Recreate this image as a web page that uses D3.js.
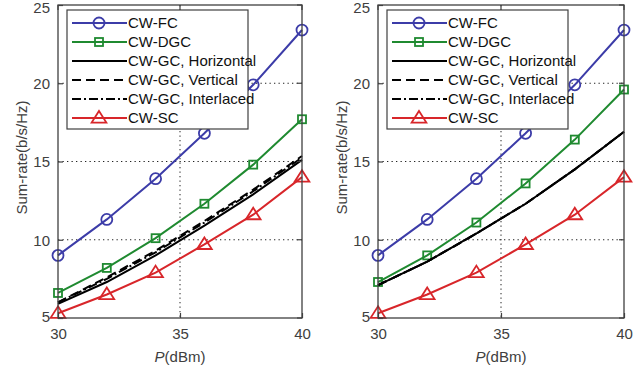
<!DOCTYPE html>
<html>
<head>
<meta charset="utf-8">
<script src="https://cdn.jsdelivr.net/npm/d3@7"></script>
<style>
  body { margin: 0; background: #fff; }
  svg { display: block; font-family: "Liberation Sans", Arial, sans-serif; }
</style>
</head>
<body>
<div id="chart"></div>
<script>
// power levels (dBm)
const powers = [30, 32, 34, 36, 38, 40];

// left panel
const leftFC = [9.0, 11.3, 13.9, 16.8, 19.9, 23.4];
const leftDGC = [6.6, 8.2, 10.1, 12.3, 14.8, 17.7];
const leftGCHoriz = [5.9, 7.3, 9.0, 10.9, 12.9, 15.1];
const leftGCVert = [6.0, 7.6, 9.3, 11.2, 13.2, 15.35];
const leftGCInter = [6.0, 7.5, 9.2, 11.1, 13.1, 15.25];
const leftSC = [5.3, 6.5, 7.9, 9.7, 11.6, 14.0];

// right panel
const rightFC = [9.0, 11.3, 13.9, 16.8, 19.9, 23.4];
const rightDGC = [7.3, 9.0, 11.1, 13.6, 16.4, 19.6];
const rightGCHoriz = [7.1, 8.6, 10.4, 12.3, 14.5, 16.9];
const rightGCVert = [7.1, 8.6, 10.4, 12.3, 14.5, 16.9];
const rightGCInter = [7.1, 8.6, 10.4, 12.3, 14.5, 16.9];
const rightSC = [5.3, 6.5, 7.9, 9.7, 11.6, 14.0];

const seriesNames = ["CW-FC", "CW-DGC", "CW-GC, Horizontal", "CW-GC, Vertical", "CW-GC, Interlaced", "CW-SC"];
const xTicks = [30, 35, 40];
const yTicks = [5, 10, 15, 20, 25];

const blue = "#3c3ca8", green = "#1f8a30", red = "#d8262a", black = "#000";
const styles = [
  { color: blue, marker: "circle", dash: null },
  { color: green, marker: "square", dash: null },
  { color: black, marker: null, dash: null },
  { color: black, marker: null, dash: "9,5" },
  { color: black, marker: null, dash: "9,3,2,3" },
  { color: red, marker: "triangle", dash: null }
];

const width = 644, height = 373;
const svg = d3.select("#chart").append("svg")
  .attr("width", width)
  .attr("height", height);

const axisColor = "#404040";

function drawMarker(g, type, color, x, y) {
  if (type === "circle") {
    g.append("circle").attr("cx", x).attr("cy", y).attr("r", 5.5)
      .attr("fill", "none").attr("stroke", color).attr("stroke-width", 1.8);
  } else if (type === "square") {
    g.append("rect").attr("x", x - 4).attr("y", y - 4).attr("width", 8).attr("height", 8)
      .attr("fill", "none").attr("stroke", color).attr("stroke-width", 1.8);
  } else if (type === "triangle") {
    const s = 7;
    g.append("path")
      .attr("d", `M${x},${y - s}L${x + s * 1.05},${y + s * 0.65}L${x - s * 1.05},${y + s * 0.65}Z`)
      .attr("fill", "none").attr("stroke", color).attr("stroke-width", 1.8);
  }
}

function drawPanel(left, right, seriesData) {
  const top = 5, bottom = 318;
  const x = d3.scaleLinear().domain([30, 40]).range([left, right]);
  const y = d3.scaleLinear().domain([5, 25]).range([bottom, top]);
  const g = svg.append("g");

  // grid
  const grid = g.append("g").attr("stroke", "#222").attr("stroke-width", 1)
    .attr("stroke-dasharray", "1.3,3.2");
  xTicks.slice(1, -1).forEach(t => {
    grid.append("line").attr("x1", x(t)).attr("x2", x(t)).attr("y1", top).attr("y2", bottom);
  });
  yTicks.slice(1, -1).forEach(t => {
    grid.append("line").attr("x1", left).attr("x2", right).attr("y1", y(t)).attr("y2", y(t));
  });

  // series
  const line = d3.line().x((d, i) => x(powers[i])).y(d => y(d));
  seriesData.forEach((vals, k) => {
    const st = styles[k];
    g.append("path").datum(vals).attr("d", line)
      .attr("fill", "none").attr("stroke", st.color).attr("stroke-width", 2)
      .attr("stroke-dasharray", st.dash);
    if (st.marker) {
      vals.forEach((v, i) => drawMarker(g, st.marker, st.color, x(powers[i]), y(v)));
    }
  });

  // axes box
  g.append("rect").attr("x", left).attr("y", top).attr("width", right - left).attr("height", bottom - top)
    .attr("fill", "none").attr("stroke", axisColor).attr("stroke-width", 1.3);

  const xAxis = d3.axisBottom(x).tickValues(xTicks).tickSize(-5).tickPadding(10);
  const yAxis = d3.axisLeft(y).tickValues(yTicks).tickSize(-5).tickPadding(8);
  const xa = g.append("g").attr("transform", `translate(0,${bottom})`).call(xAxis);
  const ya = g.append("g").attr("transform", `translate(${left},0)`).call(yAxis);
  [xa, ya].forEach(a => {
    a.select(".domain").remove();
    a.selectAll("line").attr("stroke", axisColor).attr("stroke-width", 1.2);
    a.selectAll("text").attr("fill", axisColor).attr("font-size", 15).attr("font-family", "Liberation Sans, Arial, sans-serif");
  });
  // top/right ticks
  xTicks.forEach(t => g.append("line").attr("x1", x(t)).attr("x2", x(t)).attr("y1", top).attr("y2", top + 5)
    .attr("stroke", axisColor).attr("stroke-width", 1.2));
  yTicks.forEach(t => g.append("line").attr("x1", right).attr("x2", right - 5).attr("y1", y(t)).attr("y2", y(t))
    .attr("stroke", axisColor).attr("stroke-width", 1.2));
  ya.selectAll("text").attr("dy", "0.36em");
  ya.selectAll(".tick").filter(d => d === 5).select("text").attr("dy", "0.2em");
  ya.selectAll(".tick").filter(d => d === 25).select("text").attr("dy", "0.5em");

  // axis labels
  const xl = g.append("text").attr("x", (left + right) / 2).attr("y", 362)
    .attr("text-anchor", "middle").attr("font-size", 15).attr("fill", axisColor);
  xl.append("tspan").attr("font-style", "italic").text("P");
  xl.append("tspan").text("(dBm)");
  g.append("text").attr("transform", `translate(${left - 31},${(top + bottom) / 2 - 4}) rotate(-90)`)
    .attr("text-anchor", "middle").attr("font-size", 15).attr("fill", axisColor)
    .text("Sum-rate(b/s/Hz)");

  // legend
  const lx = left + 9, ly = 10, lw = 181, lh = 119;
  const lg = g.append("g");
  lg.append("rect").attr("x", lx).attr("y", ly).attr("width", lw).attr("height", lh)
    .attr("fill", "#fff").attr("stroke", axisColor).attr("stroke-width", 1.2);
  seriesNames.forEach((name, k) => {
    const st = styles[k];
    const yy = ly + 13 + k * 19;
    lg.append("line").attr("x1", lx + 5).attr("x2", lx + 60).attr("y1", yy).attr("y2", yy)
      .attr("stroke", st.color).attr("stroke-width", 2).attr("stroke-dasharray", st.dash);
    if (st.marker) drawMarker(lg, st.marker, st.color, lx + 32, yy);
    lg.append("text").attr("x", lx + 61).attr("y", yy).attr("dy", "0.36em")
      .attr("font-size", 15).attr("fill", "#111").text(name);
  });
}

drawPanel(58, 302, [leftFC, leftDGC, leftGCHoriz, leftGCVert, leftGCInter, leftSC]);
drawPanel(378, 624, [rightFC, rightDGC, rightGCHoriz, rightGCVert, rightGCInter, rightSC]);
</script>
</body>
</html>
